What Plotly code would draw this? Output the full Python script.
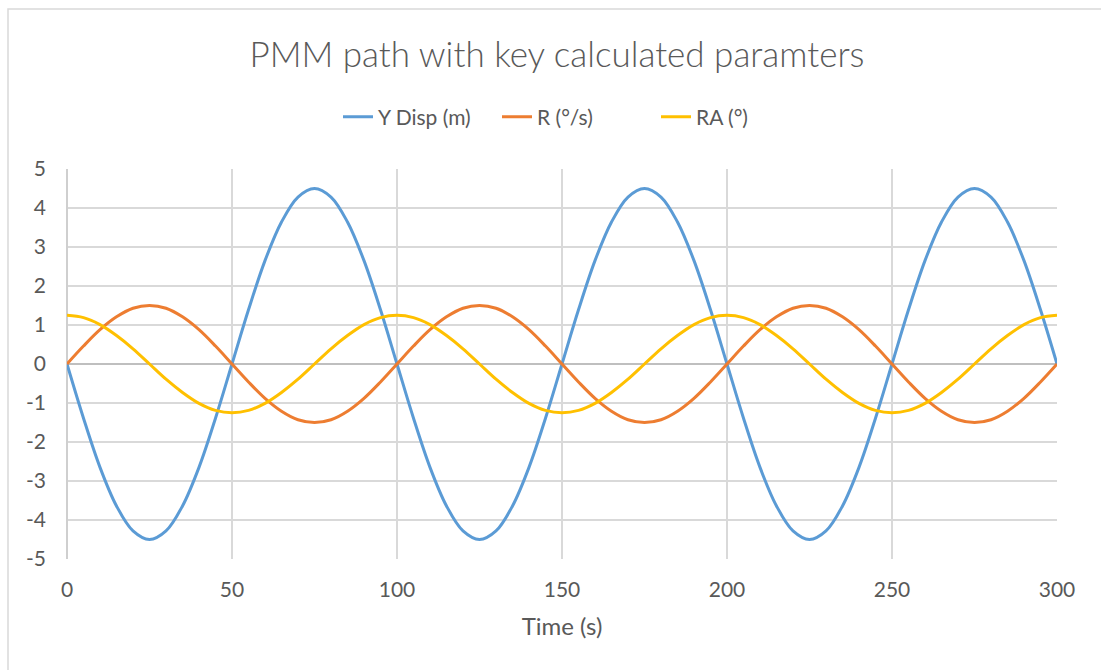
import plotly.graph_objects as go

# Time samples (s)
time_s = list(range(0, 305, 5))

# Lateral displacement of the PMM carriage (m)
y_disp = [
    0, -1.39, -2.65, -3.64, -4.28, -4.5, -4.28, -3.64, -2.65, -1.39,
    0, 1.39, 2.65, 3.64, 4.28, 4.5, 4.28, 3.64, 2.65, 1.39,
    0, -1.39, -2.65, -3.64, -4.28, -4.5, -4.28, -3.64, -2.65, -1.39,
    0, 1.39, 2.65, 3.64, 4.28, 4.5, 4.28, 3.64, 2.65, 1.39,
    0, -1.39, -2.65, -3.64, -4.28, -4.5, -4.28, -3.64, -2.65, -1.39,
    0, 1.39, 2.65, 3.64, 4.28, 4.5, 4.28, 3.64, 2.65, 1.39,
    0,
]

# Yaw rate (deg/s)
r_rate = [
    0, 0.46, 0.88, 1.21, 1.43, 1.5, 1.43, 1.21, 0.88, 0.46,
    0, -0.46, -0.88, -1.21, -1.43, -1.5, -1.43, -1.21, -0.88, -0.46,
    0, 0.46, 0.88, 1.21, 1.43, 1.5, 1.43, 1.21, 0.88, 0.46,
    0, -0.46, -0.88, -1.21, -1.43, -1.5, -1.43, -1.21, -0.88, -0.46,
    0, 0.46, 0.88, 1.21, 1.43, 1.5, 1.43, 1.21, 0.88, 0.46,
    0, -0.46, -0.88, -1.21, -1.43, -1.5, -1.43, -1.21, -0.88, -0.46,
    0,
]

# Rudder / heading angle (deg)
ra_angle = [
    1.25, 1.19, 1.01, 0.73, 0.39, 0, -0.39, -0.73, -1.01, -1.19,
    -1.25, -1.19, -1.01, -0.73, -0.39, 0, 0.39, 0.73, 1.01, 1.19,
    1.25, 1.19, 1.01, 0.73, 0.39, 0, -0.39, -0.73, -1.01, -1.19,
    -1.25, -1.19, -1.01, -0.73, -0.39, 0, 0.39, 0.73, 1.01, 1.19,
    1.25, 1.19, 1.01, 0.73, 0.39, 0, -0.39, -0.73, -1.01, -1.19,
    -1.25, -1.19, -1.01, -0.73, -0.39, 0, 0.39, 0.73, 1.01, 1.19,
    1.25,
]

# Axis ticks (plain hyphen for negatives)
x_ticks = [0, 50, 100, 150, 200, 250, 300]
y_ticks = [5, 4, 3, 2, 1, 0, -1, -2, -3, -4, -5]
y_tick_labels = ["5", "4", "3", "2", "1", "0", "-1", "-2", "-3", "-4", "-5"]

series = [
    ("Y Disp (m)", y_disp, "#5B9BD5"),
    ("R (°/s)", r_rate, "#ED7D31"),
    ("RA (°)", ra_angle, "#FFC000"),
]

FONT = "Lato, 'Open Sans', sans-serif"
TEXT = "#595959"
GRID = "#d9d9d9"

fig = go.Figure()
for name, vals, color in series:
    fig.add_trace(go.Scatter(
        x=time_s, y=vals, name=name, mode="lines",
        line=dict(color=color, width=3, shape="spline", smoothing=1.0),
    ))

fig.update_layout(
    width=1101, height=670,
    margin=dict(l=67, r=44, t=169, b=111),
    paper_bgcolor="white", plot_bgcolor="white",
    font=dict(family=FONT, color=TEXT, size=21),
    title=dict(
        text="PMM path with key calculated paramters",
        font=dict(family=FONT, size=35, color=TEXT, weight=300),
        x=557 / 1101, xref="container", xanchor="center",
        y=1 - 55 / 670, yref="container", yanchor="middle",
    ),
    legend=dict(
        orientation="h", x=(338 - 67) / 990, xanchor="left",
        y=1 + (169 - 117) / 390, yanchor="middle",
        font=dict(size=21, color=TEXT), itemwidth=30,
        entrywidth=114, entrywidthmode="pixels",
        bgcolor="rgba(0,0,0,0)",
    ),
    showlegend=True,
    xaxis=dict(
        range=[0, 300], tickvals=x_ticks,
        showgrid=True, gridcolor=GRID, gridwidth=1.6,
        zeroline=True, zerolinecolor="#cfcfcf", zerolinewidth=1.8,
        showline=False, ticks="", ticklabelstandoff=16,
        tickfont=dict(size=21, color=TEXT),
        title=dict(text="Time (s)", font=dict(size=24, color=TEXT), standoff=18),
    ),
    yaxis=dict(
        range=[-5, 5], tickvals=y_ticks, ticktext=y_tick_labels,
        showgrid=True, gridcolor=GRID, gridwidth=1.6,
        zeroline=True, zerolinecolor="#bfbfbf", zerolinewidth=1.8,
        showline=False, ticks="", ticklabelstandoff=20,
        tickfont=dict(size=21, color=TEXT),
    ),
    shapes=[
        # Outer chart frame (top and left edges visible)
        dict(type="rect", xref="paper", yref="paper",
             x0=(8 - 67) / 990, x1=1.2, y0=-0.5, y1=1 + (169 - 9) / 390,
             line=dict(color="#d9d9d9", width=1.5), layer="below"),
    ],
)

fig.write_html("out.html")
